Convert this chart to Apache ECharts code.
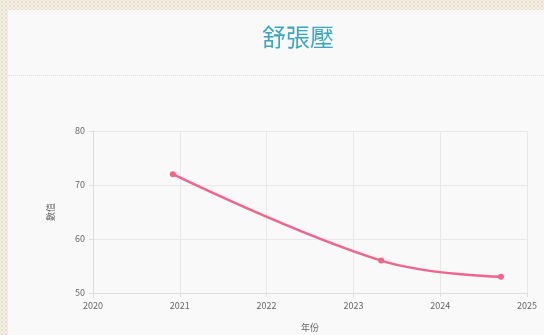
<!DOCTYPE html>
<html>
<head>
<meta charset="utf-8">
<script src="https://cdn.jsdelivr.net/npm/echarts@6/dist/echarts.min.js"></script>
<style>
  html, body { margin: 0; padding: 0; }
  body {
    width: 544px; height: 335px; overflow: hidden; position: relative;
    background-color: #f5f2df;
    background-image: radial-gradient(#efd3e0 1px, transparent 1.4px),
                      radial-gradient(#e3ecd0 1px, transparent 1.4px);
    background-size: 4px 4px, 4px 4px;
    background-position: 0 0, 2px 2px;
  }
  .card {
    position: absolute; left: 8px; top: 10px; width: 560px; height: 340px;
    background: #f9f9f9;
  }
  .sep {
    position: absolute; left: 8px; top: 75px; width: 560px;
    border-top: 1px dotted #dcdcdc;
  }
  #main { position: absolute; left: 0; top: 0; width: 544px; height: 335px; }
</style>
</head>
<body>
<div class="card"></div>
<div class="sep"></div>
<div id="main"></div>
<script>
  // 年份 (小數表示月份) 與數值
  var years = [2020.92, 2023.32, 2024.70];
  var values = [72, 56, 53];
  var xTicks = [2020, 2025, 1];
  var yTicks = [50, 80, 10];

  var chart = echarts.init(document.getElementById('main'));
  var points = [];
  for (var i = 0; i < years.length; i++) {
    points.push([years[i], values[i]]);
  }

  var option = {
    textStyle: { fontFamily: 'Noto Sans CJK TC, Noto Sans, sans-serif' },
    title: {
      text: '舒張壓',
      left: 293,
      top: 20,
      textAlign: 'center',
      textStyle: { color: '#3ba6c0', fontSize: 24, fontWeight: 'normal' }
    },
    grid: { left: 93, right: 17, top: 131, bottom: 42 },
    xAxis: {
      type: 'value',
      min: xTicks[0], max: xTicks[1], interval: xTicks[2],
      name: '年份',
      nameLocation: 'middle',
      nameGap: 30,
      nameTextStyle: { color: '#666', fontSize: 9 },
      axisLine: { show: true, lineStyle: { color: '#dddddd' } },
      axisTick: { show: true, length: 4, lineStyle: { color: '#dddddd' } },
      axisLabel: { color: '#666', fontSize: 9, margin: 8, formatter: function (v) { return String(v); } },
      splitLine: { show: true, lineStyle: { color: '#e8e8e8' } }
    },
    yAxis: {
      type: 'value',
      min: yTicks[0], max: yTicks[1], interval: yTicks[2],
      name: '數值',
      nameLocation: 'middle',
      nameGap: 38,
      nameTextStyle: { color: '#666', fontSize: 9 },
      axisLine: { show: true, lineStyle: { color: '#dddddd' } },
      axisTick: { show: true, length: 4, lineStyle: { color: '#dddddd' } },
      axisLabel: { color: '#666', fontSize: 9, margin: 8 },
      splitLine: { show: true, lineStyle: { color: '#e8e8e8' } }
    },
    series: [{
      type: 'line',
      data: points,
      smooth: 0.4,
      symbol: 'circle',
      symbolSize: 6,
      itemStyle: { color: '#f2648c' },
      lineStyle: { color: '#f2648c', width: 2.5 }
    }]
  };
  chart.setOption(option);
</script>
</body>
</html>
